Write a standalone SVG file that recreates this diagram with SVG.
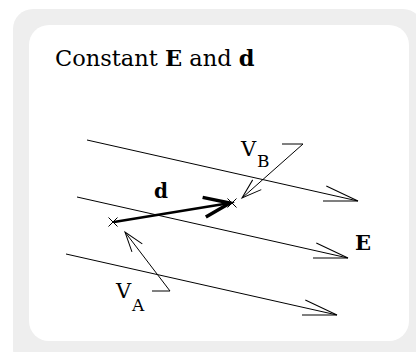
<svg xmlns="http://www.w3.org/2000/svg" width="416" height="352" viewBox="0 0 416 352">
  <style>
    .ln { stroke: #000; stroke-width: 1; fill: none; }
    .thick { stroke: #000; stroke-width: 2.5; fill: none; }
    .t { font-family: "DejaVu Serif", "Liberation Serif", serif; fill: #000; }
    .b { font-weight: bold; }
  </style>
  <defs>
    <marker id="eArrow" markerUnits="userSpaceOnUse" orient="auto" refX="0" refY="0" markerWidth="40" markerHeight="20" overflow="visible">
      <path d="M-34.2,-7.6 L0,0 L-34.2,7.6" fill="none" stroke="#000" stroke-width="1"/>
    </marker>
    <marker id="pArrow" markerUnits="userSpaceOnUse" orient="auto" refX="0" refY="0" markerWidth="30" markerHeight="20" overflow="visible">
      <path d="M-20,-6.5 L0,0 L-20,6.5" fill="none" stroke="#000" stroke-width="1"/>
    </marker>
    <marker id="dArrow" markerUnits="userSpaceOnUse" orient="auto" refX="0" refY="0" markerWidth="30" markerHeight="30" overflow="visible">
      <path d="M-26.1,-10 L0,0 L-26.1,10" fill="none" stroke="#000" stroke-width="3.5"/>
    </marker>
  </defs>

  <rect x="13" y="9" width="410" height="360" rx="20" fill="#eeeeee"/>
  <rect x="29" y="25" width="380" height="316" rx="20" fill="#ffffff"/>

  <g id="title">
    <text class="t" x="55" y="66" font-size="22.5">Constant <tspan class="b">E</tspan> and <tspan class="b">d</tspan></text>
  </g>

  <g id="connectors">
    <path class="ln" d="M87,140 L358,201" marker-end="url(#eArrow)"/>
    <path class="ln" d="M77,197 L348,258" marker-end="url(#eArrow)"/>
    <path class="ln" d="M66,254 L337,315" marker-end="url(#eArrow)"/>
    <path class="thick" d="M114,222 L230,203" marker-end="url(#dArrow)"/>
    <path class="ln" d="M282,144 L303,144 L242,198" marker-end="url(#pArrow)"/>
    <path class="ln" d="M152,291 L170,291 L125,232" marker-end="url(#pArrow)"/>
  </g>

  <g id="pointA">
    <path class="ln" d="M108.5,217.5 L117.5,226.5 M108.5,226.5 L117.5,217.5"/>
  </g>
  <g id="pointB">
    <path class="ln" d="M227.5,198.5 L236.5,207.5 M227.5,207.5 L236.5,198.5"/>
  </g>

  <g id="label-d">
    <text class="t b" x="154" y="198" font-size="20">d</text>
  </g>
  <g id="label-E">
    <text class="t b" x="355" y="250" font-size="21">E</text>
  </g>
  <g id="label-VB">
    <text class="t" font-size="21"><tspan x="241" y="156">V</tspan><tspan x="257" y="167" font-size="17">B</tspan></text>
  </g>
  <g id="label-VA">
    <text class="t" font-size="21"><tspan x="116" y="298">V</tspan><tspan x="132" y="311" font-size="17">A</tspan></text>
  </g>
</svg>
